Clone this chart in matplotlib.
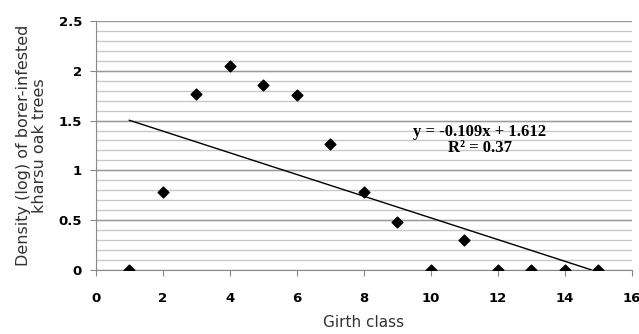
import matplotlib
matplotlib.use("Agg")
import matplotlib.pyplot as plt
import numpy as np

girth_class = [1, 2, 3, 4, 5, 6, 7, 8, 9, 10, 11, 12, 13, 14, 15]
density_log = [0.0, 0.78, 1.77, 2.05, 1.86, 1.76, 1.26, 0.78, 0.48, 0.0, 0.30, 0.0, 0.0, 0.0, 0.0]
slope = -0.109
intercept = 1.612
r2 = 0.37
x_ticks = [0, 2, 4, 6, 8, 10, 12, 14, 16]
y_ticks = [0, 0.5, 1, 1.5, 2, 2.5]

fig = plt.figure(figsize=(6.39, 3.34), dpi=100)
ax = fig.add_axes([0.150, 0.192, 0.839, 0.745])

# minor gridlines
for v in np.arange(0.1, 2.5, 0.1):
    ax.axhline(v, color="#c8c8c8", lw=1.0, zorder=0)
for v in y_ticks:
    ax.axhline(v, color="#999999", lw=1.0, zorder=0)

ax.scatter(girth_class, density_log, marker="D", s=30, color="black", zorder=3)

x_end = -intercept / slope
xs = np.array([girth_class[0], x_end])
ax.plot(xs, slope * xs + intercept, color="black", lw=1.0, zorder=2)

ax.text(11.45, 1.30, f"y = {slope}x + {intercept}\nR² = {r2}", ha="center", va="center",
        family="Liberation Serif", fontweight="bold", fontsize=12, linespacing=1.0)

ax.set_xlim(0, 16)
ax.set_ylim(0, 2.5)
ax.set_xticks(x_ticks)
ax.set_yticks(y_ticks)
ax.set_xticklabels([str(t) for t in x_ticks], fontweight="bold", fontsize=9.5)
ax.set_yticklabels(["0", "0.5", "1", "1.5", "2", "2.5"], fontweight="bold", fontsize=9.5)
ax.tick_params(axis="x", direction="out", length=4, color="#888888", pad=12)
ax.tick_params(axis="y", direction="out", length=4, color="#888888", pad=6)
for s in ["top", "right"]:
    ax.spines[s].set_visible(False)
for s in ["left", "bottom"]:
    ax.spines[s].set_color("#888888")

ax.set_xlabel("Girth class", fontsize=11, color="#333333", labelpad=7)
ax.set_ylabel("Density (log) of borer-infested\nkharsu oak trees", fontsize=11.5, color="#333333",
              labelpad=8, linespacing=1.15)

fig.savefig("out.png", dpi=100)
